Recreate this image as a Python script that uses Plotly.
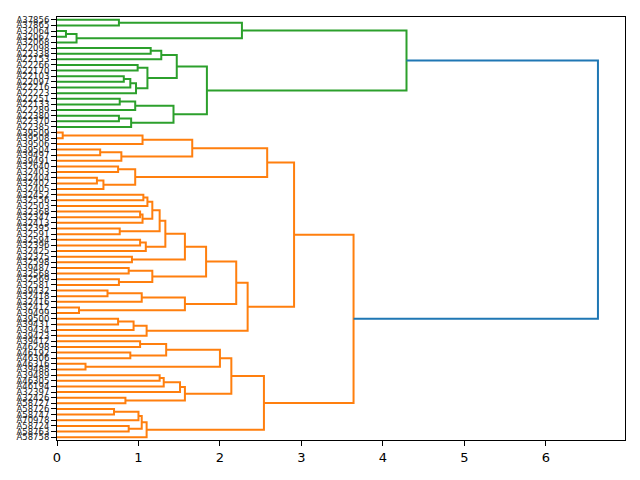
import plotly.graph_objs as go

# leaf labels, top to bottom
labels = ['A37856', 'A37865', 'A32064', 'A32067', 'A32068', 'A22098', 'A22338', 'A22153', 'A22266', 'A22170',
          'A22103', 'A22097', 'A22216', 'A22223', 'A22251', 'A22133', 'A22289', 'A22380', 'A22370', 'A22385',
          'A39509', 'A39508', 'A39506', 'A39504', 'A39497', 'A39491', 'A32640', 'A32403', 'A32404', 'A32402',
          'A32405', 'A32452', 'A32556', 'A32503', 'A32368', 'A32347', 'A32413', 'A32395', 'A32591', 'A32594',
          'A32396', 'A32425', 'A32375', 'A32598', 'A39487', 'A32568', 'A32569', 'A32581', 'A39432', 'A32418',
          'A32416', 'A32412', 'A39499', 'A39500', 'A39431', 'A39434', 'A39423', 'A39412', 'A46298', 'A46192',
          'A46306', 'A46316', 'A39488', 'A39489', 'A46305', 'A46194', 'A32397', 'A32426', 'A58727', 'A58726',
          'A58747', 'A70978', 'A58724', 'A58763', 'A58758']

# linkage: new cluster n+k joins merge_a[k] and merge_b[k] at merge_h[k]
merge_a = [0, 2, 76, 75, 5, 79, 8, 10, 82, 83, 81, 80, 14, 87, 17, 89, 88, 86, 78,
           20, 94, 23, 96, 95, 26, 28, 100, 99, 98,
           31, 104, 34, 106, 105, 37, 108, 39, 111, 110, 42, 113, 44, 46, 116, 115,
           48, 120, 51, 121, 119, 53, 125, 126, 124, 103,
           57, 59, 130, 61, 132, 63, 135, 136, 67, 137, 134, 69, 141, 72, 142, 144, 140, 129, 93]
merge_b = [1, 3, 4, 77, 6, 7, 9, 11, 12, 13, 84, 85, 15, 16, 18, 19, 90, 91, 92,
           21, 22, 24, 25, 97, 27, 29, 30, 101, 102,
           32, 33, 35, 36, 107, 38, 109, 40, 41, 112, 43, 114, 45, 47, 117, 118,
           49, 50, 52, 122, 123, 54, 55, 56, 127, 128,
           58, 60, 131, 62, 133, 64, 65, 66, 68, 138, 139, 70, 71, 73, 143, 74, 145, 146, 147]
merge_h = [0.76, 0.11, 0.24, 2.27, 1.15, 1.28, 0.99, 0.82, 0.90, 0.97, 1.11, 1.47, 0.77, 0.96, 0.76, 0.91, 1.43, 1.84, 4.29,
           0.07, 1.05, 0.53, 0.79, 1.66, 0.75, 0.49, 0.57, 0.96, 2.58,
           1.06, 1.11, 1.02, 1.05, 1.17, 0.77, 1.26, 1.02, 1.09, 1.33, 0.92, 1.57, 0.88, 0.76, 1.17, 1.83,
           0.62, 1.04, 0.27, 1.57, 2.20, 0.75, 0.94, 1.10, 2.34, 2.91,
           1.02, 0.90, 1.34, 0.35, 2.00, 1.26, 1.31, 1.51, 0.84, 1.57, 2.14, 0.70, 1.00, 0.88, 1.04, 1.10, 2.54, 3.64, 6.64]

n = len(labels)
assert len(merge_a) == len(merge_b) == len(merge_h) == n - 1

colors = {'C2': '#2ca02c', 'C1': '#ff7f0e', 'above': '#1f77b4'}
threshold = 0.7 * max(merge_h)

ypos = {i: 5 + 10 * i for i in range(n)}
xpos = {i: 0.0 for i in range(n)}
first_leaf = {i: i for i in range(n)}
for k in range(n - 1):
    c = n + k
    ypos[c] = (ypos[merge_a[k]] + ypos[merge_b[k]]) / 2
    xpos[c] = merge_h[k]
    first_leaf[c] = first_leaf[merge_a[k]]

# flat cluster colour: green for the top group, orange for the rest
segs = {}
for k in range(n - 1):
    a, b, h = merge_a[k], merge_b[k], merge_h[k]
    if h > threshold:
        col = colors['above']
    elif first_leaf[n + k] < 20:
        col = colors['C2']
    else:
        col = colors['C1']
    xs, ys = segs.setdefault(col, ([], []))
    xs += [xpos[a], h, h, xpos[b], None]
    ys += [ypos[a], ypos[a], ypos[b], ypos[b], None]

data = []
for col, (xs, ys) in segs.items():
    data.append(go.Scatter(x=xs, y=ys, mode='lines', line=dict(color=col, width=2),
                           hoverinfo='skip', showlegend=False))

# page body has an 8px margin, so the figure is shifted; margins compensate
layout = go.Layout(
    width=640, height=480,
    margin=dict(l=49, r=23, t=9, b=48),
    plot_bgcolor='white', paper_bgcolor='white',
    xaxis=dict(range=[0, max(merge_h) * 1.05], tickvals=[0, 1, 2, 3, 4, 5, 6], automargin=False,
               showgrid=False, zeroline=False, showline=True, mirror=True,
               linecolor='black', linewidth=1, ticks='outside', ticklen=5,
               tickcolor='black', tickfont=dict(family='DejaVu Sans', size=13, color='black')),
    yaxis=dict(range=[10 * n, 0], tickmode='array', tickvals=[5 + 10 * i for i in range(n)],
               ticktext=labels, automargin=False, showgrid=False, zeroline=False, showline=True, mirror=True,
               linecolor='black', linewidth=1, ticks='outside', ticklen=5, tickcolor='black',
               tickfont=dict(family='DejaVu Sans', size=8.5, color='#222')),
)

fig = go.Figure(data=data, layout=layout)
fig.write_html("out.html")
